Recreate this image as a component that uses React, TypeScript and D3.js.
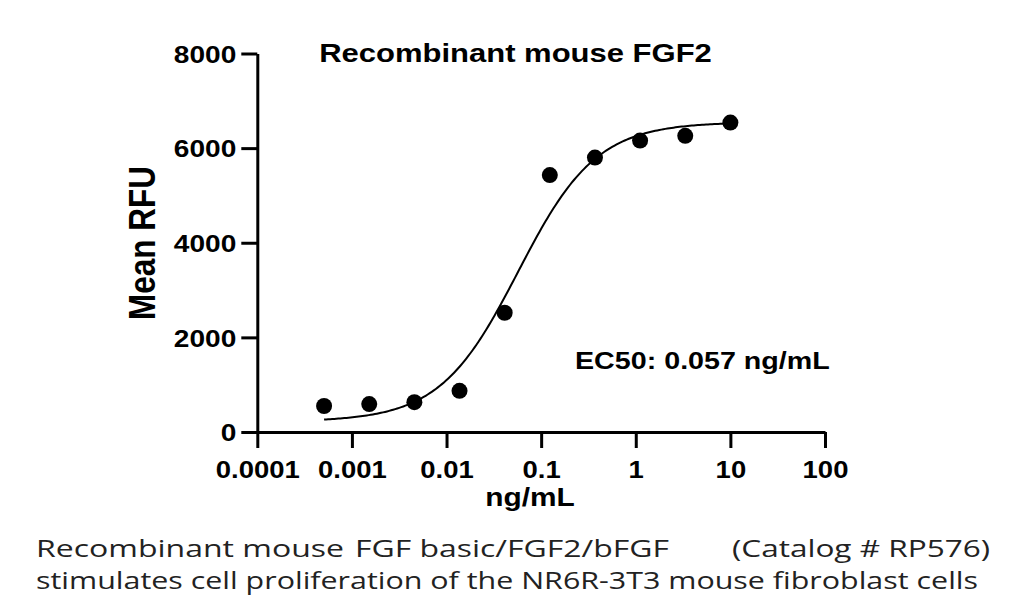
import React, { useRef, useEffect } from "react";
import * as d3 from "d3";

const concentrations = [0.000508, 0.001524, 0.004572, 0.01372, 0.04115, 0.1235, 0.3704, 1.111, 3.333, 10];
const meanRfu = [550, 590, 630, 870, 2520, 5430, 5800, 6160, 6260, 6540];
const xTicks = [0.0001, 0.001, 0.01, 0.1, 1, 10, 100];
const xTickLabels = ["0.0001", "0.001", "0.01", "0.1", "1", "10", "100"];
const yTicks = [0, 2000, 4000, 6000, 8000];

// four-parameter logistic fit shown as the line
const fitBottom = 220, fitTop = 6550, fitEc50 = 0.057, fitHill = 1.05;

const captionLine1 = [
  { text: "Recombinant mouse", x0: 36, x1: 344 },
  { text: "FGF basic/FGF2/bFGF", x0: 355, x1: 669 },
  { text: "(Catalog # RP576)", x0: 732, x1: 990 },
];
const captionLine2 = "stimulates cell proliferation of the NR6R-3T3 mouse fibroblast cells";

export default function App() {
  const ref = useRef<SVGSVGElement>(null);

  useEffect(() => {
    const svg = d3.select(ref.current);
    svg.selectAll("*").remove();

    const sx = 1.17; // the original picture is stretched sideways
    const font = "'Liberation Sans', Arial, sans-serif";
    const x = d3.scaleLog().domain([1e-4, 100]).range([257.3, 825]);
    const y = d3.scaleLinear().domain([0, 8000]).range([432, 53.5]);

    // fitted curve
    const lo = Math.log10(concentrations[0]);
    const hi = Math.log10(concentrations[concentrations.length - 1]);
    const curveX = d3.range(201).map(i => Math.pow(10, lo + (hi - lo) * i / 200));
    const model = (c: number) => fitBottom + (fitTop - fitBottom) / (1 + Math.pow(fitEc50 / c, fitHill));
    const line = d3.line<number>().x(c => x(c)).y(c => y(model(c)));
    svg.append("path")
      .attr("d", line(curveX))
      .attr("fill", "none")
      .attr("stroke", "#000")
      .attr("stroke-width", 2);

    // points
    svg.selectAll("circle.pt")
      .data(concentrations)
      .enter()
      .append("circle")
      .attr("class", "pt")
      .attr("cx", d => x(d))
      .attr("cy", (d, i) => y(meanRfu[i]))
      .attr("r", 8)
      .attr("fill", "#000");

    // y axis
    const gy = svg.append("g")
      .attr("transform", `translate(${x(1e-4)},0)`)
      .call(d3.axisLeft(y).tickValues(yTicks).tickSize(16).tickSizeOuter(0).tickFormat(d3.format("d")));
    gy.select(".domain").attr("stroke-width", 3);
    gy.selectAll(".tick line").attr("stroke-width", 3);
    gy.selectAll(".tick text")
      .attr("x", null)
      .attr("dy", "0.36em")
      .attr("transform", `translate(-21,0) scale(${sx},1)`)
      .attr("font-family", font)
      .attr("font-size", 24)
      .attr("font-weight", "bold")
      .attr("fill", "#000");

    // x axis
    const gx = svg.append("g")
      .attr("transform", `translate(0,${y(0)})`)
      .call(d3.axisBottom(x).tickValues(xTicks).tickSize(16).tickSizeOuter(0)
        .tickFormat((d, i) => xTickLabels[i]));
    gx.select(".domain").attr("stroke-width", 3);
    gx.selectAll(".tick line").attr("stroke-width", 3);
    gx.selectAll(".tick text")
      .attr("y", null)
      .attr("dy", "0.71em")
      .attr("transform", `translate(0,29) scale(${sx},1)`)
      .attr("font-family", font)
      .attr("font-size", 23.5)
      .attr("font-weight", "bold")
      .attr("fill", "#000");
    svg.selectAll(".domain, .tick line").attr("stroke", "#000");

    const label = (tx: number, ty: number, txt: string, size: number, anchor: string, extra = "") =>
      svg.append("text")
        .attr("transform", `translate(${tx},${ty}) scale(${sx},1)${extra}`)
        .attr("text-anchor", anchor)
        .attr("font-family", font)
        .attr("font-size", size)
        .attr("font-weight", "bold")
        .attr("fill", "#000")
        .text(txt);

    label(515.5, 62, "Recombinant mouse FGF2", 26.5, "middle");
    label(575, 369.3, "EC50: 0.057 ng/mL", 24.5, "start");
    label(530, 506, "ng/mL", 25.5, "middle");
    label(155, 243, "Mean RFU", 31.5, "middle", " rotate(-90)");

    // caption
    const capFont = "'Open Sans', 'DejaVu Sans', sans-serif";
    captionLine1.forEach(s => {
      svg.append("text")
        .attr("x", s.x0)
        .attr("y", 556.7)
        .attr("textLength", s.x1 - s.x0)
        .attr("lengthAdjust", "spacingAndGlyphs")
        .attr("font-family", capFont)
        .attr("font-size", 23.5)
        .attr("fill", "#222")
        .text(s.text);
    });
    svg.append("text")
      .attr("x", 36)
      .attr("y", 588.5)
      .attr("textLength", 978 - 36)
      .attr("lengthAdjust", "spacingAndGlyphs")
      .attr("font-family", capFont)
      .attr("font-size", 23.5)
      .attr("fill", "#222")
      .text(captionLine2);
  }, []);

  return (
    <svg
      ref={ref}
      width={1024}
      height={606}
      style={{ position: "absolute", left: 0, top: 0, background: "#fff" }}
    />
  );
}
